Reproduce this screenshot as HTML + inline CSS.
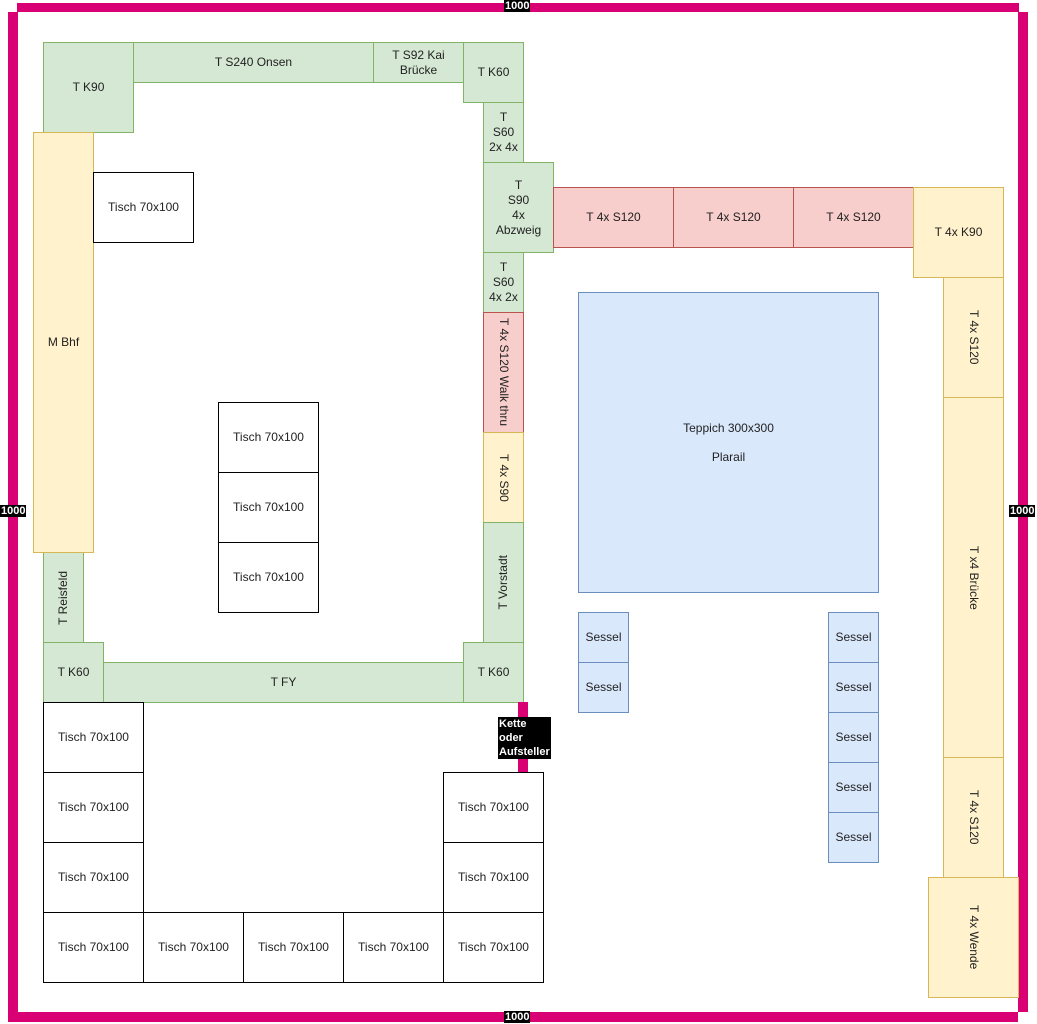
<!DOCTYPE html>
<html><head><meta charset="utf-8"><style>
body{margin:0;width:1037px;height:1024px;position:relative;background:#fff;font-family:"Liberation Sans",sans-serif;font-size:12px;color:#222;overflow:hidden}
.b{position:absolute;box-sizing:border-box;display:flex;align-items:center;justify-content:center;text-align:center;line-height:15px}
.g{background:#d5e8d4;border:1px solid #82b366}
.y{background:#fff2cc;border:1px solid #d6b656}
.r{background:#f8cecc;border:1px solid #b85450}
.bl{background:#dae8fc;border:1px solid #6c8ebf}
.w{background:#fff;border:1px solid #000}
.v{writing-mode:vertical-rl}
.vu{writing-mode:vertical-rl;transform:rotate(180deg)}
.p{position:absolute;background:#d80073}
.l{position:absolute;background:#000;color:#fff;font-weight:bold;font-size:11px;line-height:12px;padding:0 1px}
</style></head><body>
<div class="p" style="left:17px;top:3px;width:1002px;height:9px"></div>
<div class="p" style="left:8px;top:12px;width:10px;height:1010px"></div>
<div class="p" style="left:1018px;top:12px;width:10px;height:1000px"></div>
<div class="p" style="left:18px;top:1012px;width:1000px;height:10px"></div>
<div class="l" style="left:504px;top:0px">1000</div>
<div class="l" style="left:0px;top:505px">1000</div>
<div class="l" style="left:1009px;top:505px">1000</div>
<div class="l" style="left:504px;top:1011px">1000</div>

<div class="b g" style="left:43px;top:42px;width:91px;height:91px">T K90</div>
<div class="b g" style="left:133px;top:42px;width:241px;height:41px">T S240 Onsen</div>
<div class="b g" style="left:373px;top:42px;width:91px;height:41px">T S92 Kai<br>Brücke</div>
<div class="b g" style="left:463px;top:42px;width:61px;height:61px">T K60</div>
<div class="b g" style="left:483px;top:102px;width:41px;height:61px">T<br>S60<br>2x 4x</div>
<div class="b g" style="left:483px;top:162px;width:71px;height:91px">T<br>S90<br>4x<br>Abzweig</div>
<div class="b g" style="left:483px;top:252px;width:41px;height:61px">T<br>S60<br>4x 2x</div>
<div class="b r" style="left:483px;top:312px;width:41px;height:121px"><span class="v">T 4x S120 Walk thru</span></div>
<div class="b y" style="left:483px;top:432px;width:41px;height:91px"><span class="v">T 4x S90</span></div>
<div class="b g" style="left:483px;top:522px;width:41px;height:121px"><span class="vu">T Vorstadt</span></div>
<div class="b g" style="left:103px;top:662px;width:361px;height:41px">T FY</div>
<div class="b g" style="left:463px;top:642px;width:61px;height:61px">T K60</div>
<div class="b g" style="left:43px;top:642px;width:61px;height:61px">T K60</div>
<div class="b g" style="left:43px;top:552px;width:41px;height:91px"><span class="vu">T Reisfeld</span></div>
<div class="b y" style="left:33px;top:132px;width:61px;height:421px">M Bhf</div>

<div class="b w" style="left:93px;top:172px;width:101px;height:71px">Tisch 70x100</div>
<div class="b w" style="left:218px;top:402px;width:101px;height:71px">Tisch 70x100</div>
<div class="b w" style="left:218px;top:472px;width:101px;height:71px">Tisch 70x100</div>
<div class="b w" style="left:218px;top:542px;width:101px;height:71px">Tisch 70x100</div>

<div class="b w" style="left:43px;top:702px;width:101px;height:71px">Tisch 70x100</div>
<div class="b w" style="left:43px;top:772px;width:101px;height:71px">Tisch 70x100</div>
<div class="b w" style="left:43px;top:842px;width:101px;height:71px">Tisch 70x100</div>
<div class="b w" style="left:43px;top:912px;width:101px;height:71px">Tisch 70x100</div>
<div class="b w" style="left:143px;top:912px;width:101px;height:71px">Tisch 70x100</div>
<div class="b w" style="left:243px;top:912px;width:101px;height:71px">Tisch 70x100</div>
<div class="b w" style="left:343px;top:912px;width:101px;height:71px">Tisch 70x100</div>
<div class="b w" style="left:443px;top:912px;width:101px;height:71px">Tisch 70x100</div>
<div class="b w" style="left:443px;top:842px;width:101px;height:71px">Tisch 70x100</div>
<div class="b w" style="left:443px;top:772px;width:101px;height:71px">Tisch 70x100</div>

<div class="p" style="left:518px;top:702px;width:10px;height:70px"></div>
<div class="l" style="left:498px;top:717px;line-height:14px">Kette<br>oder<br>Aufsteller</div>

<div class="b r" style="left:553px;top:187px;width:121px;height:61px">T 4x S120</div>
<div class="b r" style="left:673px;top:187px;width:121px;height:61px">T 4x S120</div>
<div class="b r" style="left:793px;top:187px;width:121px;height:61px">T 4x S120</div>
<div class="b y" style="left:913px;top:187px;width:91px;height:91px">T 4x K90</div>
<div class="b y" style="left:943px;top:277px;width:61px;height:121px"><span class="v">T 4x S120</span></div>
<div class="b y" style="left:943px;top:397px;width:61px;height:361px"><span class="v">T x4 Brücke</span></div>
<div class="b y" style="left:943px;top:757px;width:61px;height:121px"><span class="v">T 4x S120</span></div>
<div class="b y" style="left:928px;top:877px;width:91px;height:121px"><span class="v">T 4x Wende</span></div>

<div class="b bl" style="left:578px;top:292px;width:301px;height:301px;line-height:29px">Teppich 300x300<br>Plarail</div>
<div class="b bl" style="left:578px;top:612px;width:51px;height:51px">Sessel</div>
<div class="b bl" style="left:578px;top:662px;width:51px;height:51px">Sessel</div>
<div class="b bl" style="left:828px;top:612px;width:51px;height:51px">Sessel</div>
<div class="b bl" style="left:828px;top:662px;width:51px;height:51px">Sessel</div>
<div class="b bl" style="left:828px;top:712px;width:51px;height:51px">Sessel</div>
<div class="b bl" style="left:828px;top:762px;width:51px;height:51px">Sessel</div>
<div class="b bl" style="left:828px;top:812px;width:51px;height:51px">Sessel</div>
</body></html>
